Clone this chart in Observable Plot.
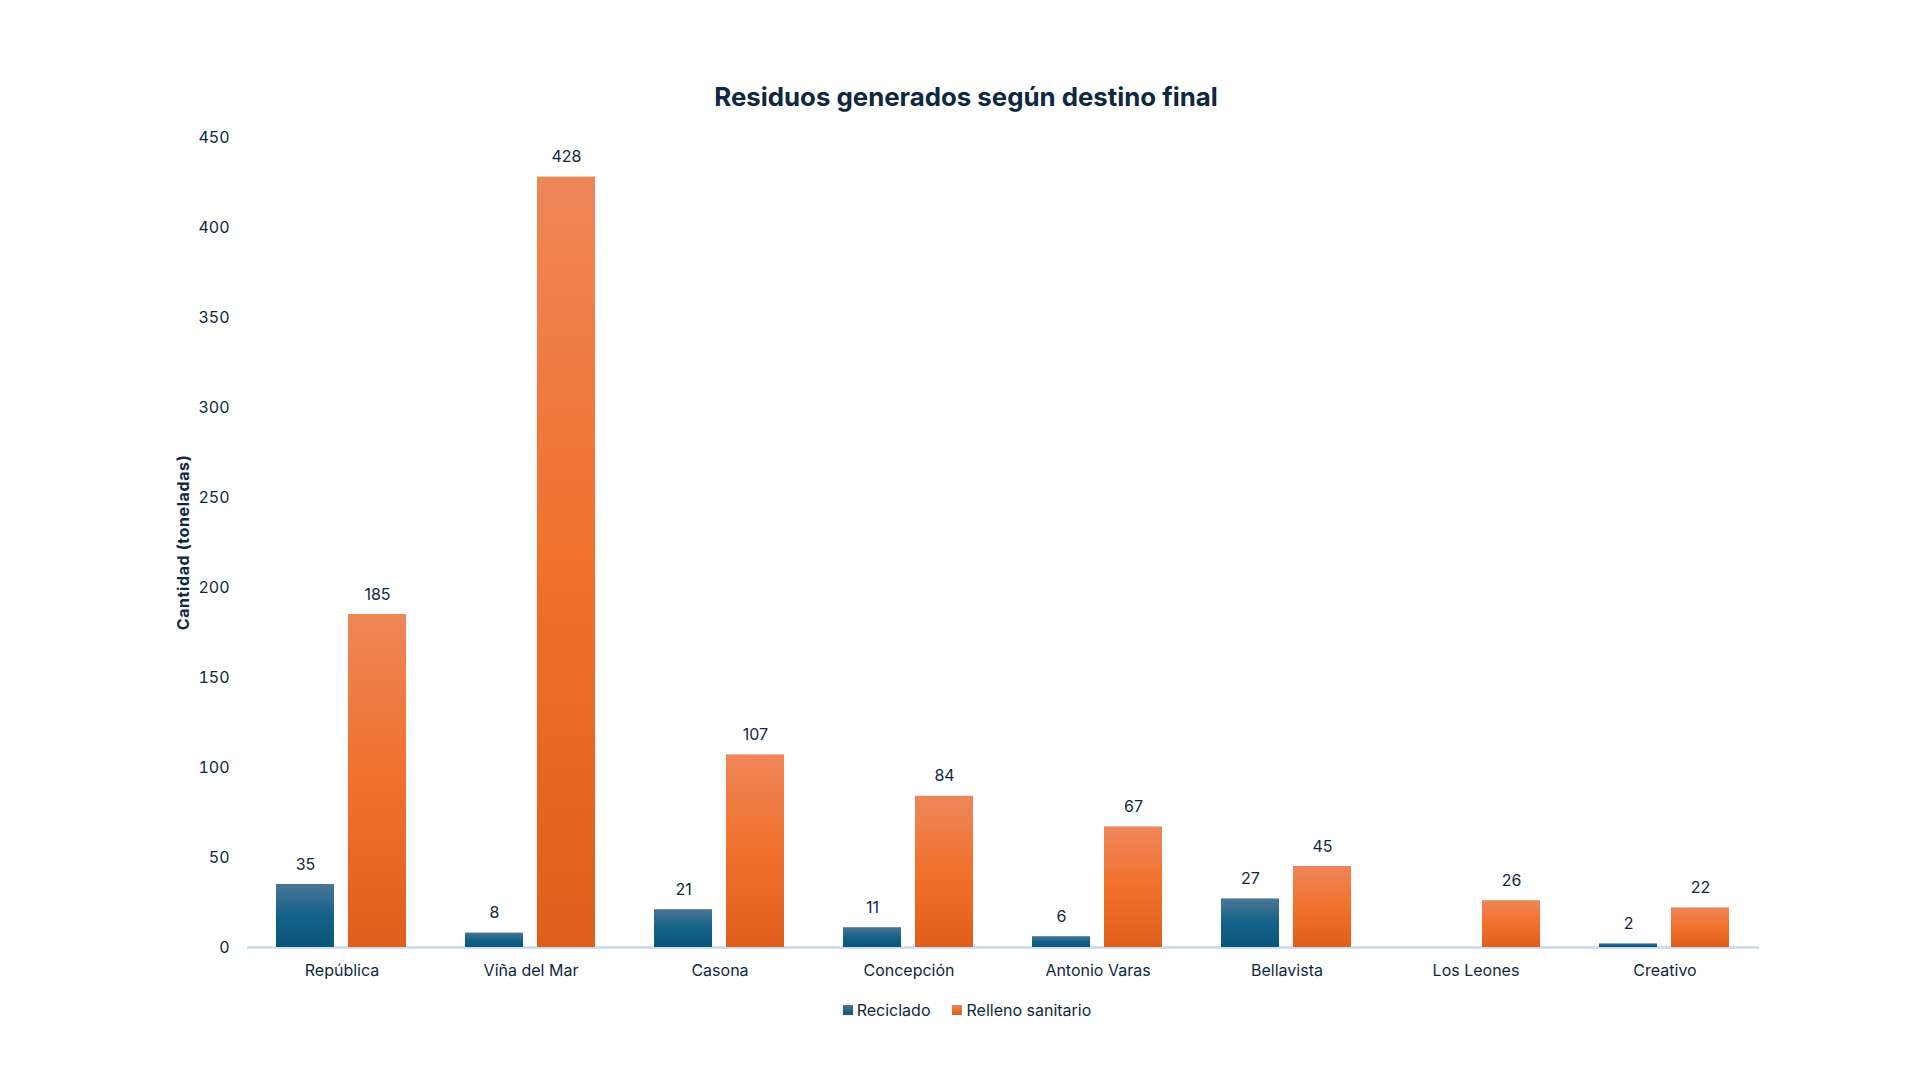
<!DOCTYPE html>
<html>
<head>
<meta charset="utf-8">
<script src="https://cdn.jsdelivr.net/npm/d3@7"></script>
<script src="https://cdn.jsdelivr.net/npm/@observablehq/plot@0.6"></script>
<style>
  html, body { margin: 0; padding: 0; background: #fff; }
  body { width: 1920px; height: 1080px; position: relative; overflow: hidden; font-family: Inter, "Noto Sans", sans-serif; color: #0e2841; }
  #chart { position: absolute; left: 0; top: 0; }
  #title { position: absolute; left: 0; width: 1932px; top: 80px; line-height: 34px; text-align: center; font-weight: 700; font-size: 25.8px; color: #0e2841; }
  #legend { position: absolute; left: 0; width: 1934px; top: 999px; line-height: 20px; text-align: center; font-size: 16px; color: #0e2841; }
  .item { display: inline-flex; align-items: center; margin: 0 11px; }
  .sw { width: 10px; height: 10px; margin-right: 4px; display: inline-block; }
</style>
</head>
<body>
<div id="chart"></div>
<div id="title">Residuos generados según destino final</div>
<div id="legend"></div>
<script>
const categories = ["República", "Viña del Mar", "Casona", "Concepción", "Antonio Varas", "Bellavista", "Los Leones", "Creativo"];
const series = ["Reciclado", "Relleno sanitario"];
const reciclado = [35, 8, 21, 11, 6, 27, null, 2];
const relleno = [185, 428, 107, 84, 67, 45, 26, 22];
const yTicks = [0, 50, 100, 150, 200, 250, 300, 350, 400, 450];
const yLabel = "Cantidad (toneladas)";
const gradients = {
  "Reciclado": [["0%", "#4c7594"], ["50%", "#13628a"], ["100%", "#0c5578"]],
  "Relleno sanitario": [["0%", "#ee8659"], ["50%", "#f1712c"], ["100%", "#df5e1b"]]
};
const gradId = {"Reciclado": "gBlue", "Relleno sanitario": "gOrange"};

const values = [reciclado, relleno];
const rows = [];
categories.forEach((c, i) => {
  series.forEach((s, j) => {
    rows.push({category: c, series: s, value: values[j][i]});
  });
});
const valid = rows.filter(d => d.value != null);

const chart = Plot.plot({
  width: 1920,
  height: 1080,
  marginLeft: 246,
  marginRight: 160,
  marginTop: 137,
  marginBottom: 133,
  style: {fontFamily: "Inter, 'Noto Sans', sans-serif", fontSize: "16px", color: "#0e2841", background: "white"},
  fx: {domain: categories, paddingInner: 0, paddingOuter: 0, label: null, tickSize: 0, tickPadding: 17, axis: "bottom"},
  x: {domain: series, paddingInner: 0.192, paddingOuter: 0.392, axis: null},
  y: {domain: [0, 450], ticks: yTicks, tickSize: 0, tickPadding: 18, label: yLabel, labelArrow: "none", labelAnchor: "center", labelOffset: 70},
  marks: [
    Plot.ruleY([0], {stroke: "#c6d9ef", strokeWidth: 2.5}),
    ...series.map(s => Plot.barY(valid.filter(d => d.series === s), {fx: "category", x: "series", y: "value", fill: `url(#${gradId[s]})`})),
    Plot.text(valid, {fx: "category", x: "series", y: "value", text: d => String(d.value), dy: -20, lineAnchor: "middle", fill: "#0e2841", fontSize: 16})
  ]
});

// gradient definitions
const svg = d3.select(chart);
const defs = svg.insert("defs", ":first-child");
series.forEach(s => {
  const g = defs.append("linearGradient").attr("id", gradId[s]).attr("x1", 0).attr("y1", 0).attr("x2", 0).attr("y2", 1);
  gradients[s].forEach(([o, c]) => g.append("stop").attr("offset", o).attr("stop-color", c));
});
// bold axis label, without arrow
svg.selectAll("g[aria-label='y-axis label'] text")
  .text(yLabel)
  .attr("font-weight", 700)
  .attr("font-size", 16)
  .attr("letter-spacing", "0.6px");

document.getElementById("chart").appendChild(chart);

// legend
const legend = d3.select("#legend");
series.forEach(s => {
  const item = legend.append("span").attr("class", "item");
  const stops = gradients[s];
  item.append("span").attr("class", "sw").style("background", `linear-gradient(${stops[0][1]}, ${stops[2][1]})`);
  item.append("span").text(s);
});
</script>
</body>
</html>
